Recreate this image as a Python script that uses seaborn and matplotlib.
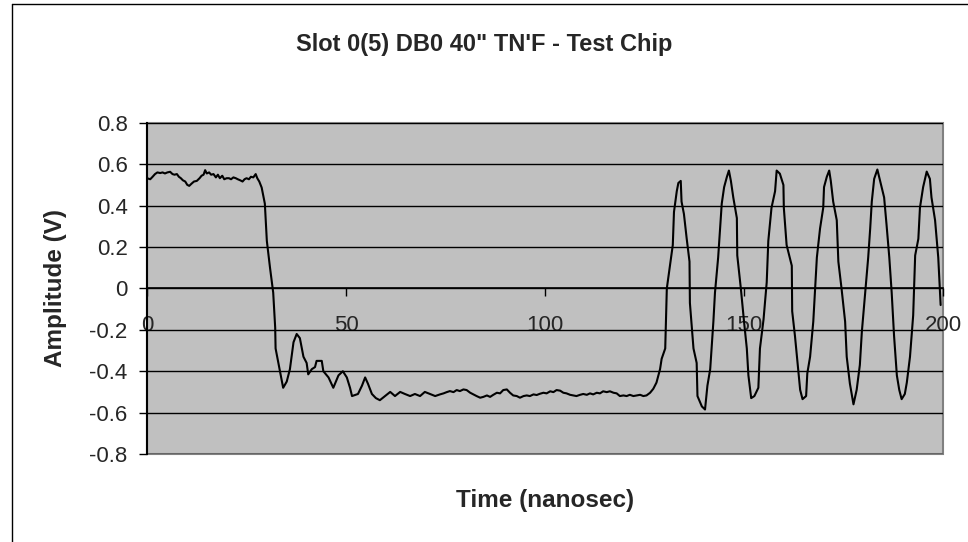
import seaborn as sns
import matplotlib.pyplot as plt
from matplotlib.lines import Line2D

# Lectura del osciloscopio (tiempo en ns, amplitud en V)
time_ns = [
    # nivel alto
    0.0, 0.8, 1.4, 2.0, 2.6, 3.3, 3.9, 4.5, 5.1, 5.8, 6.4, 6.9, 7.5, 8.0, 8.5,
    9.0, 9.6, 10.1, 10.6, 11.2, 11.8, 12.5, 13.2, 13.7, 14.2, 14.6, 15.0, 15.6,
    16.1, 16.7, 17.3, 17.8, 18.3, 18.9, 19.4, 20.0, 20.6, 21.1, 21.7, 22.3, 22.8,
    23.4, 24.0, 24.5, 25.0, 25.6, 26.1, 26.7, 27.3, 27.7, 28.2, 28.8,
    # flanco de bajada y rebotes
    29.6, 30.1, 30.9, 31.7, 32.2, 32.3, 33.4, 34.2, 35.1, 35.9, 36.8, 37.6, 38.4,
    39.3, 40.1, 40.5, 41.4, 42.2, 42.6, 43.9, 44.3, 45.6, 46.8, 48.1, 49.2, 50.2,
    51.0, 51.5, 53.0, 54.0, 54.8, 55.5, 56.5, 57.5, 58.5, 59.8, 61.1, 62.3, 63.6,
    64.8, 66.1, 67.3, 68.6, 69.8, 71.1, 72.4,
    # nivel bajo
    73.6, 74.5, 75.3, 76.1, 77.0, 77.8, 78.6, 79.5, 80.3, 81.2, 82.0, 82.8, 83.7,
    84.5, 85.4, 86.2, 87.0, 87.9, 88.7, 89.5, 90.4, 91.2, 92.0, 92.9, 93.7, 94.6,
    95.4, 96.2, 97.1, 97.9, 98.7, 99.6, 100.4, 101.3, 102.1, 102.9, 103.8, 104.6,
    105.4, 106.3, 107.1, 107.9, 108.8, 109.6, 110.5, 111.3, 112.1, 113.0, 113.8,
    114.6, 115.5, 116.3, 117.2, 118.0, 118.8, 119.7, 120.5, 121.3, 122.2, 123.0,
    123.9, 124.7, 125.5, 126.4, 127.2, 128.0,
    # oscilacion
    128.9, 129.3, 130.2, 130.6, 131.4, 132.1, 132.4, 133.1, 133.5, 134.1, 134.3,
    134.9, 135.6, 136.3, 136.4, 137.3, 138.1, 138.3, 139.4, 140.2, 140.8, 141.5,
    142.3, 142.7, 143.5, 144.4, 145.0, 145.7, 146.2, 146.7, 147.3, 148.2, 148.3,
    149.2, 150.0, 150.7, 151.1, 151.8, 152.6, 153.6, 154.0, 154.9, 155.7, 156.1,
    156.9, 157.8, 158.2, 159.0, 159.9, 160.0, 160.7, 162.0, 162.1, 162.8, 163.6,
    164.1, 164.7, 165.6, 165.9, 166.6, 167.4, 168.3, 169.1, 169.9, 170.1, 170.8,
    171.4, 171.8, 172.4, 173.3, 173.7, 174.5, 175.4, 175.8, 176.6, 177.5, 178.3,
    179.1, 179.6, 180.4, 181.2, 181.7, 182.1, 182.7, 183.5, 184.2, 185.2, 185.8,
    186.5, 187.1, 187.7, 188.4, 189.0, 189.6, 190.4, 190.9, 191.7, 192.5, 193.0,
    193.8, 194.2, 195.0, 195.9, 196.7, 197.1, 198.0, 198.8, 199.4,
]
amplitude_v = [
    # nivel alto
    0.533, 0.528, 0.540, 0.553, 0.561, 0.558, 0.561, 0.556, 0.561, 0.564, 0.553,
    0.550, 0.553, 0.540, 0.533, 0.523, 0.517, 0.501, 0.496, 0.507, 0.517, 0.520,
    0.533, 0.545, 0.550, 0.572, 0.556, 0.561, 0.550, 0.553, 0.537, 0.550, 0.533,
    0.545, 0.528, 0.533, 0.533, 0.528, 0.537, 0.533, 0.528, 0.523, 0.517, 0.528,
    0.533, 0.528, 0.540, 0.537, 0.553, 0.533, 0.517, 0.488,
    # flanco de bajada y rebotes
    0.41, 0.23, 0.10, -0.02, -0.19, -0.29, -0.40, -0.48, -0.45, -0.39, -0.26,
    -0.22, -0.24, -0.33, -0.36, -0.415, -0.39, -0.38, -0.35, -0.35, -0.40, -0.43,
    -0.48, -0.42, -0.40, -0.43, -0.48, -0.52, -0.51, -0.47, -0.43, -0.46, -0.51,
    -0.53, -0.54, -0.52, -0.50, -0.52, -0.50, -0.51, -0.52, -0.51, -0.52, -0.50,
    -0.51, -0.52,
    # nivel bajo
    -0.512, -0.507, -0.501, -0.496, -0.501, -0.491, -0.496, -0.488, -0.491,
    -0.504, -0.512, -0.520, -0.528, -0.524, -0.517, -0.524, -0.514, -0.504,
    -0.507, -0.491, -0.488, -0.504, -0.517, -0.520, -0.528, -0.520, -0.517,
    -0.520, -0.512, -0.515, -0.509, -0.504, -0.507, -0.497, -0.501, -0.491,
    -0.494, -0.504, -0.507, -0.514, -0.517, -0.520, -0.514, -0.510, -0.514,
    -0.507, -0.512, -0.504, -0.507, -0.497, -0.501, -0.497, -0.504, -0.507,
    -0.520, -0.517, -0.520, -0.514, -0.520, -0.517, -0.514, -0.520, -0.517,
    -0.504, -0.485, -0.455,
    # oscilacion
    -0.39, -0.34, -0.29, 0.0, 0.11, 0.21, 0.37, 0.47, 0.51, 0.52, 0.42, 0.36,
    0.24, 0.13, -0.07, -0.29, -0.36, -0.52, -0.57, -0.585, -0.47, -0.39, -0.16,
    -0.02, 0.15, 0.41, 0.49, 0.54, 0.57, 0.52, 0.44, 0.34, 0.16, 0.0, -0.16,
    -0.29, -0.42, -0.53, -0.52, -0.48, -0.29, -0.15, 0.03, 0.23, 0.39, 0.47, 0.57,
    0.555, 0.50, 0.39, 0.21, 0.11, -0.11, -0.23, -0.39, -0.49, -0.535, -0.52,
    -0.41, -0.33, -0.16, 0.15, 0.29, 0.39, 0.49, 0.54, 0.57, 0.52, 0.42, 0.33,
    0.13, 0.0, -0.16, -0.33, -0.46, -0.56, -0.49, -0.37, -0.21, -0.03, 0.15, 0.29,
    0.42, 0.53, 0.575, 0.52, 0.44, 0.31, 0.15, -0.02, -0.23, -0.42, -0.49, -0.535,
    -0.51, -0.455, -0.33, -0.13, 0.16, 0.24, 0.39, 0.49, 0.565, 0.53, 0.44, 0.33,
    0.15, -0.08,
]

x_ticks = [0, 50, 100, 150, 200]
x_tick_labels = ["0", "50", "100", "150", "200"]
y_ticks = [-0.8, -0.6, -0.4, -0.2, 0.0, 0.2, 0.4, 0.6, 0.8]
y_tick_labels = ["-0.8", "-0.6", "-0.4", "-0.2", "0", "0.2", "0.4", "0.6", "0.8"]

titulo = "Slot 0(5) DB0 40\" TN'F - Test Chip"

sns.set_style("white")
plt.rcParams["font.family"] = ["Liberation Sans", "DejaVu Sans"]

fig = plt.figure(figsize=(9.68, 5.42), dpi=100)
ax = fig.add_axes([0.1519, 0.1624, 0.8223, 0.6107])

sns.lineplot(x=time_ns, y=amplitude_v, ax=ax, color="black", linewidth=1.5,
             estimator=None, sort=False)

# area de trazado estilo Excel
ax.set_facecolor("#c0c0c0")
ax.patch.set_edgecolor("#808080")
ax.patch.set_linewidth(1.5)
ax.set_xlim(0, 200)
ax.set_ylim(-0.8, 0.8)
ax.grid(axis="y", color="black", linewidth=1)
ax.grid(axis="x", visible=False)
ax.set_axisbelow(True)

for lado in ["top", "right"]:
    ax.spines[lado].set_visible(False)
ax.spines["left"].set_color("black")
ax.spines["left"].set_linewidth(1.5)
ax.spines["bottom"].set_position(("data", 0))
ax.spines["bottom"].set_color("black")
ax.spines["bottom"].set_linewidth(1.2)

ax.set_xticks(x_ticks)
ax.set_xticklabels(x_tick_labels)
ax.set_yticks(y_ticks)
ax.set_yticklabels(y_tick_labels)
ax.tick_params(axis="x", direction="out", length=6, width=1, color="black",
               pad=13, labelsize=16, bottom=True)
ax.tick_params(axis="y", direction="out", length=6, width=1, color="black",
               pad=8, labelsize=16, left=True)

ax.set_xlabel("Time (nanosec)", fontsize=17.5, fontweight="bold")
ax.set_ylabel("Amplitude (V)", fontsize=17.5, fontweight="bold")
ax.xaxis.set_label_coords(0.5, -0.105)
ax.yaxis.set_label_coords(-0.1005, 0.5)

fig.text(0.5, 1 - 45 / 542, titulo, ha="center", va="center",
         fontsize=17, fontweight="bold")

# borde del grafico (izquierda y arriba)
fig.add_artist(Line2D([12 / 968, 12 / 968], [0, 1 - 4 / 542], color="black", lw=1))
fig.add_artist(Line2D([12 / 968, 1], [1 - 4 / 542, 1 - 4 / 542], color="black", lw=1))

fig.savefig("out.png", dpi=100)
